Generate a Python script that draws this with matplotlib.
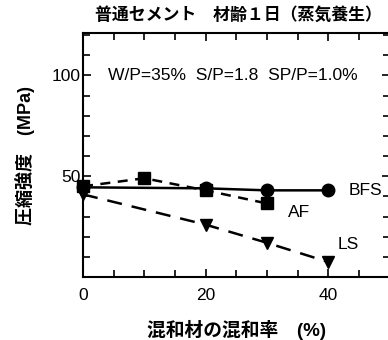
import matplotlib
matplotlib.use("Agg")
import matplotlib.pyplot as plt
from matplotlib.ticker import MultipleLocator, FixedLocator, FixedFormatter

plt.rcParams['font.family'] = ['Liberation Sans', 'Noto Sans CJK JP', 'DejaVu Sans']

# data
bfs_x = [0, 20, 30, 40]
bfs_y = [44.5, 44, 43, 43]
af_x = [0, 10, 20, 30]
af_y = [45, 49, 43, 36.5]
ls_x = [0, 20, 30, 40]
ls_y = [41, 26, 17, 7.5]

x_ticklabels = ["0", "20", "40"]
y_ticklabels = ["50", "100"]

fig = plt.figure(figsize=(3.88, 3.40), dpi=100)
ax = fig.add_axes([0.214, 0.185, 0.79, 0.718])

ax.plot(bfs_x, bfs_y, color="black", lw=1.8, ls="-", marker="o", ms=9, clip_on=False, zorder=3)
ax.plot(af_x, af_y, color="black", lw=1.8, ls=(0, (4, 3)), marker="s", ms=8.5, clip_on=False, zorder=3)
ax.plot(ls_x, ls_y, color="black", lw=1.8, ls=(0, (6, 4)), marker="v", ms=9, clip_on=False, zorder=3)

ax.text(43.3, 43, "BFS", fontsize=12.5, va="center", ha="left")
ax.text(33.5, 32, "AF", fontsize=12.5, va="center", ha="left")
ax.text(41.5, 16, "LS", fontsize=12.5, va="center", ha="left")
ax.text(4.0, 100, "W/P=35%  S/P=1.8  SP/P=1.0%", fontsize=12.6, va="center", ha="left")

ax.set_xlim(0, 50)
ax.set_ylim(0, 121)
ax.xaxis.set_major_locator(FixedLocator([0, 20, 40]))
ax.xaxis.set_major_formatter(FixedFormatter(x_ticklabels))
ax.xaxis.set_minor_locator(MultipleLocator(5))
ax.yaxis.set_major_locator(FixedLocator([50, 100]))
ax.yaxis.set_major_formatter(FixedFormatter(y_ticklabels))
ax.yaxis.set_minor_locator(MultipleLocator(10))
ax.tick_params(which="both", direction="in", top=True, right=True, labelsize=12.5, width=1.2)
ax.tick_params(which="major", length=6, pad=8)
ax.tick_params(which="minor", length=5)
ax.tick_params(axis="y", pad=2)
for s in ax.spines.values():
    s.set_linewidth(1.5)

ax.set_xlabel("混和材の混和率　(%)", fontsize=13.5, fontweight="bold", labelpad=12)
ax.set_ylabel("圧縮強度　(MPa)", fontsize=13, fontweight="bold", labelpad=12)
fig.text(0.615, 0.958, "普通セメント　材齢１日（蒸気養生）", fontsize=12.2, fontweight="bold",
         ha="center", va="center")

fig.savefig("out.png", dpi=100, facecolor="white")
